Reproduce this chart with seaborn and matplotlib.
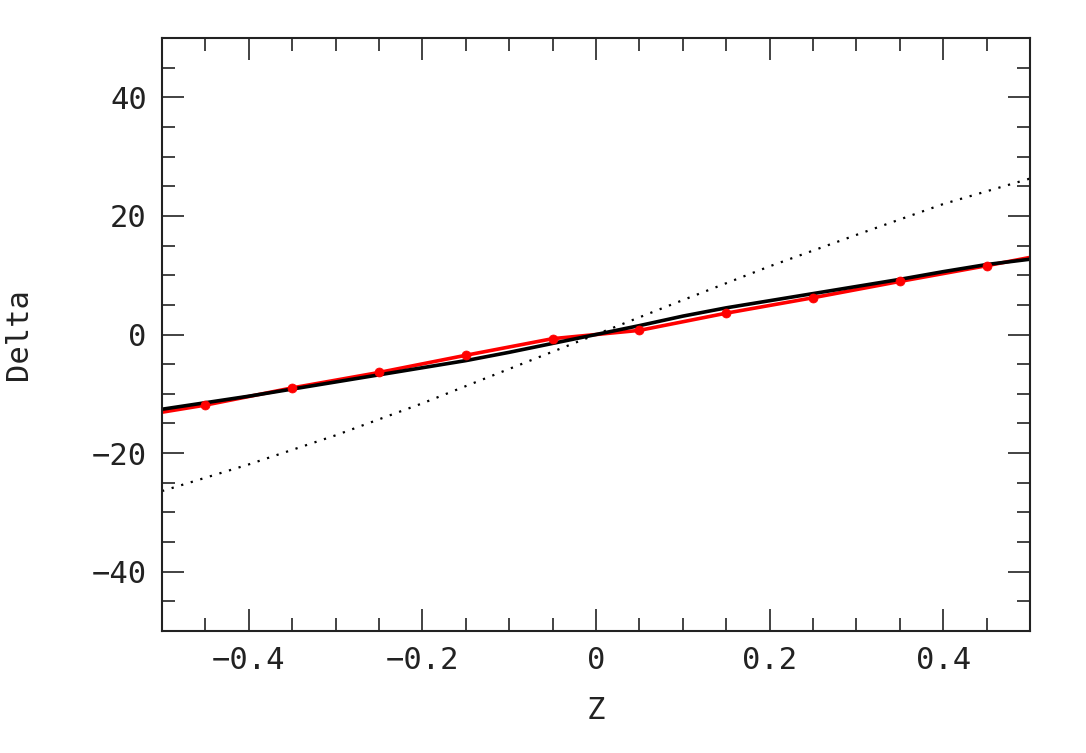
import matplotlib
matplotlib.use("Agg")
import matplotlib.pyplot as plt
import seaborn as sns
from matplotlib.ticker import MultipleLocator

sns.set_theme(style="white")
plt.rcParams["font.family"] = ["DejaVu Sans Mono", "DejaVu Sans"]

# Measured points (red dots)
z_pts = [-0.45, -0.35, -0.25, -0.15, -0.05, 0.05, 0.15, 0.25, 0.35, 0.45]
delta_pts = [-11.9, -9.0, -6.4, -3.5, -0.7, 0.7, 3.6, 6.2, 8.95, 11.6]

# Red line through the points, extended to the edges
z_red = [-0.5, -0.45, -0.35, -0.25, -0.15, -0.05, 0.0, 0.05, 0.15, 0.25, 0.35, 0.45, 0.5]
delta_red = [-13.1, -11.9, -9.0, -6.4, -3.5, -0.7, 0.0, 0.7, 3.6, 6.2, 8.95, 11.6, 13.0]

# Black model curve
z_model = [-0.5, -0.45, -0.4, -0.35, -0.3, -0.25, -0.2, -0.15, -0.1, -0.05, 0.0,
           0.05, 0.1, 0.15, 0.2, 0.25, 0.3, 0.35, 0.4, 0.45, 0.5]
delta_model = [-12.6, -11.5, -10.4, -9.2, -8.0, -6.8, -5.6, -4.4, -3.0, -1.5, 0.0,
               1.5, 3.1, 4.5, 5.7, 6.9, 8.1, 9.3, 10.6, 11.8, 12.7]

# Dotted reference curve
z_ref = [-0.5, -0.4, -0.3, -0.2, -0.1, 0.0, 0.1, 0.2, 0.3, 0.4, 0.5]
delta_ref = [-26.4, -21.9, -17.0, -11.6, -5.8, 0.0, 5.8, 11.5, 16.8, 22.0, 26.3]

xtick_vals = [-0.4, -0.2, 0, 0.2, 0.4]
xtick_labels = ["\u22120.4", "\u22120.2", "0", "0.2", "0.4"]
ytick_vals = [-40, -20, 0, 20, 40]
ytick_labels = ["\u221240", "\u221220", "0", "20", "40"]

fig = plt.figure(figsize=(10.86, 7.53), dpi=100)
ax = fig.add_axes([0.1492, 0.162, 0.7992, 0.7875])

sns.lineplot(x=z_ref, y=delta_ref, ax=ax, color="black", linewidth=1.6,
             linestyle=(0, (1, 3.5)), sort=False)
sns.lineplot(x=z_red, y=delta_red, ax=ax, color="red", linewidth=2.6, sort=False)
sns.scatterplot(x=z_pts, y=delta_pts, ax=ax, color="red", s=42, edgecolor="red", zorder=3)
sns.lineplot(x=z_model, y=delta_model, ax=ax, color="black", linewidth=2.6, sort=False)

ax.set_xlim(-0.5, 0.5)
ax.set_ylim(-50, 50)
ax.xaxis.set_minor_locator(MultipleLocator(0.05))
ax.yaxis.set_minor_locator(MultipleLocator(5))
ax.set_xticks(xtick_vals)
ax.set_xticklabels(xtick_labels)
ax.set_yticks(ytick_vals)
ax.set_yticklabels(ytick_labels)

ax.tick_params(which="both", direction="in", top=True, right=True,
               bottom=True, left=True, colors="#222222", labelsize=22)
ax.tick_params(which="major", length=15.5, width=1.2, pad=11)
ax.tick_params(which="minor", length=9.5, width=1.2)
for s in ax.spines.values():
    s.set_color("#222222")
    s.set_linewidth(1.5)

ax.set_xlabel("Z", fontsize=22, color="#222222", labelpad=15)
ax.set_ylabel("Delta", fontsize=22, color="#222222", labelpad=42)

fig.savefig("out.png", dpi=100)
